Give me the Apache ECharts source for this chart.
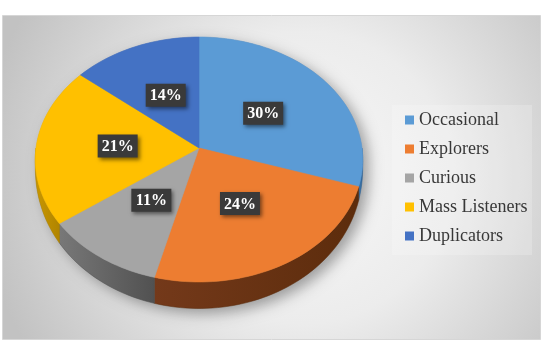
<!DOCTYPE html>
<html>
<head>
<meta charset="utf-8">
<script src="https://cdn.jsdelivr.net/npm/echarts@6/dist/echarts.min.js"></script>
<style>
  html, body { margin: 0; padding: 0; background: #fff; }
  #main { width: 543px; height: 341px; }
</style>
</head>
<body>
<div id="main"></div>
<script>
// data
const categories = ["Occasional", "Explorers", "Curious", "Mass Listeners", "Duplicators"];
const values = [30, 24, 11, 21, 14];
const colors = ["#5B9BD5", "#ED7D31", "#A5A5A5", "#FFC000", "#4472C4"];
const sideColors = [["#3f79ad", "#2f6396"], ["#74391a", "#5c2c0c"], ["#787878", "#515151"], ["#c99700", "#b08400"], ["#35599c", "#2a4a85"]];

// pie geometry (tilted disc with a bit of perspective)
const CX = 199, CY = 148, RX = 163, RY = 121.4, K = 0.094, DEPTH = 24;

const total = values.reduce((a, b) => a + b, 0);
const starts = [], ends = [];
let acc = 0;
values.forEach(v => {
  starts.push(acc / total * Math.PI * 2);
  acc += v;
  ends.push(acc / total * Math.PI * 2);
});

function proj(r, t, dz) {
  const u = -Math.cos(t) * r;
  const s = 1 / (1 - K * u);
  return [CX + RX * r * Math.sin(t) * s, CY + RY * u * s + (dz || 0) * s];
}

// wall gets thinner towards the sides, like in the picture
function wallDepth(t) {
  return DEPTH * Math.sqrt(Math.max(0, -Math.cos(t)));
}

function arc(a0, a1, withDepth) {
  const pts = [];
  const n = Math.max(4, Math.ceil((a1 - a0) / 0.03));
  for (let j = 0; j <= n; j++) {
    const t = a0 + (a1 - a0) * j / n;
    pts.push(proj(1, t, withDepth ? wallDepth(t) : 0));
  }
  return pts;
}

function wallPoints(a0, a1) {
  const lo = Math.max(a0, Math.PI / 2), hi = Math.min(a1, Math.PI * 1.5);
  if (hi <= lo) return null;
  return arc(lo, hi, false).concat(arc(lo, hi, true).reverse());
}

let myChart = echarts.init(document.getElementById("main"));

myChart.setOption({
  animation: false,
  graphic: [
    {
      type: "rect", z: -10, silent: true,
      shape: { x: 2.5, y: 15.5, width: 538, height: 324 },
      style: {
        fill: {
          type: "radial", x: 0.56, y: 0.5, r: 1.0,
          colorStops: [
            { offset: 0, color: "#f8f8f8" },
            { offset: 0.45, color: "#ececec" },
            { offset: 1, color: "#c2c2c2" }
          ]
        },
        stroke: "#d6d6d6", lineWidth: 1
      }
    },
    {
      type: "rect", z: -9, silent: true,
      shape: { x: 392, y: 105, width: 140, height: 150 },
      style: { fill: "rgba(255,255,255,0.2)" }
    }
  ],
  legend: {
    orient: "vertical",
    left: 405,
    top: 110,
    padding: 0,
    icon: "rect",
    itemWidth: 9,
    itemHeight: 9,
    itemGap: 9,
    itemTextGap: 4,
    selectedMode: false,
    data: categories,
    textStyle: {
      fontFamily: "'Times New Roman', 'Liberation Serif', serif",
      fontSize: 18,
      lineHeight: 20,
      color: "#383838"
    }
  },
  series: [
    // only feeds the legend
    {
      type: "pie",
      radius: [0, 0],
      center: [-50, -50],
      silent: true,
      label: { show: false },
      data: categories.map((c, i) => ({ name: c, value: values[i], itemStyle: { color: colors[i] } }))
    },
    // soft shadow under the disc
    {
      type: "custom",
      coordinateSystem: "none",
      silent: true,
      z: 1,
      data: [0],
      renderItem: function () {
        return {
          type: "polygon",
          shape: { points: arc(0, Math.PI * 2, false).concat(arc(Math.PI / 2, Math.PI * 1.5, true)) },
          style: {
            fill: "#9a9a9a",
            shadowBlur: 14,
            shadowColor: "rgba(0,0,0,0.35)",
            shadowOffsetX: 6,
            shadowOffsetY: 5
          }
        };
      }
    },
    // side walls
    {
      type: "custom",
      coordinateSystem: "none",
      silent: true,
      z: 2,
      data: values,
      renderItem: function (params) {
        const i = params.dataIndex;
        const pts = wallPoints(starts[i], ends[i]);
        if (!pts) return null;
        return {
          type: "polygon",
          shape: { points: pts },
          style: {
            fill: new echarts.graphic.LinearGradient(0, 0, 1, 0, [
              { offset: 0, color: sideColors[i][0] },
              { offset: 1, color: sideColors[i][1] }
            ]),
            stroke: sideColors[i][1],
            lineWidth: 0.5
          }
        };
      }
    },
    // top faces
    {
      type: "custom",
      coordinateSystem: "none",
      silent: true,
      z: 3,
      data: values,
      renderItem: function (params) {
        const i = params.dataIndex;
        const pts = [proj(0, 0)].concat(arc(starts[i], ends[i], false));
        return {
          type: "polygon",
          shape: { points: pts },
          style: { fill: colors[i], stroke: colors[i], lineWidth: 0.6 }
        };
      }
    },
    // data labels
    {
      type: "custom",
      coordinateSystem: "none",
      silent: true,
      z: 4,
      data: values,
      renderItem: function (params, api) {
        const i = params.dataIndex;
        const p = proj(0.5, (starts[i] + ends[i]) / 2);
        const pct = Math.round(api.value(0) / total * 100) + "%";
        return {
          type: "group",
          children: [
            {
              type: "rect",
              shape: { x: p[0] - 20, y: p[1] - 11.5, width: 40, height: 23 },
              style: {
                fill: "#3a3a3a",
                shadowBlur: 4,
                shadowColor: "rgba(0,0,0,0.5)",
                shadowOffsetX: 2,
                shadowOffsetY: 2
              }
            },
            {
              type: "text",
              x: p[0],
              y: p[1] + 1,
              style: {
                text: pct,
                fill: "#ffffff",
                font: "bold 16px 'Times New Roman', 'Liberation Serif', serif",
                align: "center",
                verticalAlign: "middle"
              }
            }
          ]
        };
      }
    }
  ]
});
</script>
</body>
</html>
